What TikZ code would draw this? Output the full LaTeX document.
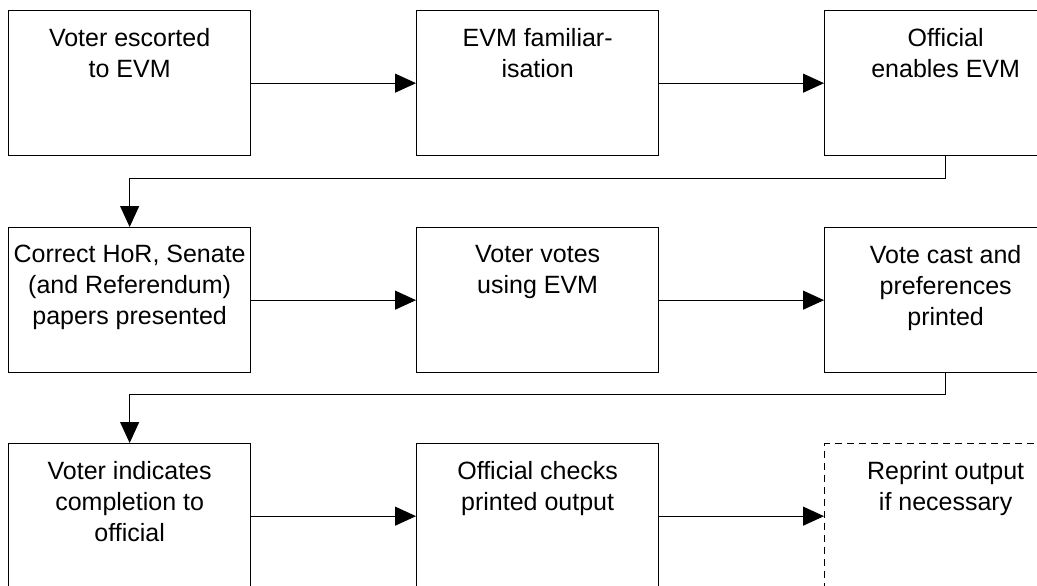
\documentclass[tikz,border=0pt]{standalone}
\usepackage{fontspec}
\setmainfont{Liberation Sans}
\usetikzlibrary{arrows.meta}
\begin{document}
\begin{tikzpicture}[x=0.5pt, y=-0.5pt,
		etape/.style={draw, line width=0.65pt, minimum width=121pt, minimum height=72.5pt, inner sep=0pt, anchor=north west},
		texte/.style={anchor=north, align=center, inner sep=0pt, font=\fontsize{12.5}{15.5}\selectfont, yshift=-8.9pt},
		fleche/.style={line width=0.55pt, -{Triangle[length=10.5pt, width=9.5pt]}}]
		\useasboundingbox (0,0) rectangle (1037,585);
		
		% premiere ligne
		\node[etape] (E1) at (8,10) {};
		\node[etape] (E2) at (416,10) {};
		\node[etape] (E3) at (824,10) {};
		\node[texte] at (E1.north) {Voter escorted\\to EVM};
		\node[texte] at (E2.north) {EVM familiar-\\isation};
		\node[texte] at (E3.north) {Official\\enables EVM};
		
		% deuxieme ligne
		\node[etape] (E4) at (8,227) {};
		\node[etape] (E5) at (416,227) {};
		\node[etape] (E6) at (824,227) {};
		\node[texte] at (E4.north) {Correct HoR, Senate\\(and Referendum)\\papers presented};
		\node[texte] at (E5.north) {Voter votes\\using EVM};
		\node[texte] at (E6.north) {Vote cast and\\preferences\\printed};
		
		% troisieme ligne
		\node[etape] (E7) at (8,443) {};
		\node[etape] (E8) at (416,443) {};
		\node[etape, dashed, dash pattern=on 3.5pt off 2.5pt] (E9) at (824,443) {};
		\node[texte] at (E7.north) {Voter indicates\\completion to\\official};
		\node[texte] at (E8.north) {Official checks\\printed output};
		\node[texte] at (E9.north) {Reprint output\\if necessary};
		
		\draw[fleche] (E1) -- (E2);
		\draw[fleche] (E2) -- (E3);
		\draw[fleche] (E3.south) -- ++(0,22) -| (E4.north);
		\draw[fleche] (E4) -- (E5);
		\draw[fleche] (E5) -- (E6);
		\draw[fleche] (E6.south) -- ++(0,21) -| (E7.north);
		\draw[fleche] (E7) -- (E8);
		\draw[fleche] (E8) -- (E9);
	\end{tikzpicture}
\end{document}
